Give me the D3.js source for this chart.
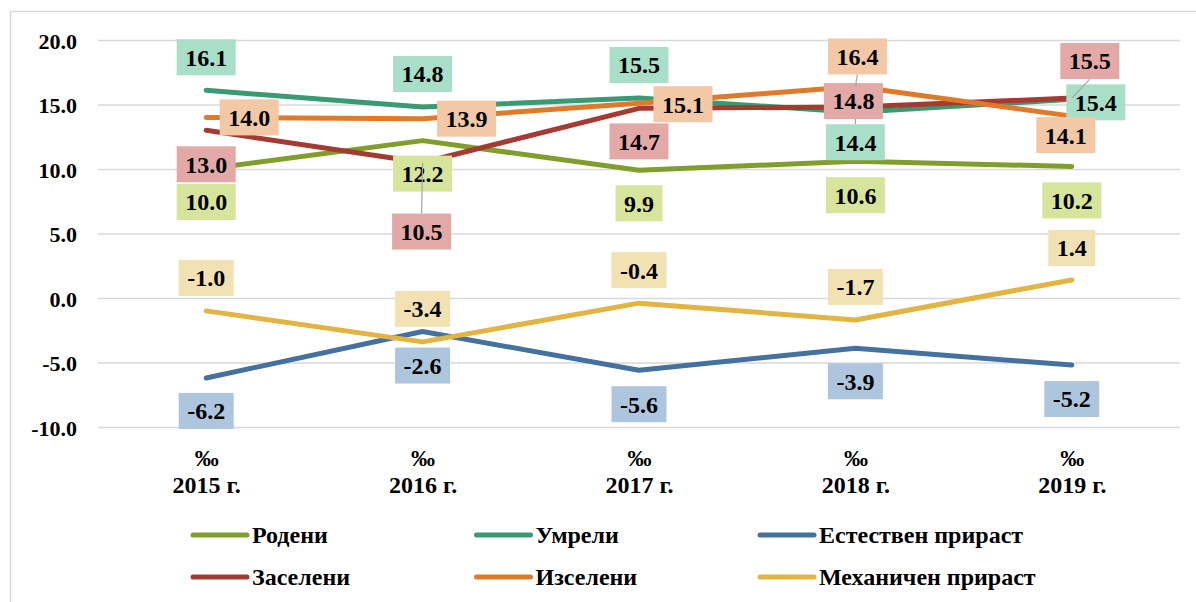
<!DOCTYPE html>
<html>
<head>
<meta charset="utf-8">
<script src="https://cdn.jsdelivr.net/npm/d3@7"></script>
<style>
    body { margin: 0; background: #fff; }
    svg text { font-family: "Liberation Serif", "Times New Roman", serif; font-weight: bold; fill: #000; }
</style>
</head>
<body>
<div id="chart"></div>
<script>
// data
const years = ['2015', '2016', '2017', '2018', '2019'];
const seriesNames = ['Родени', 'Умрели', 'Естествен прираст', 'Заселени', 'Изселени', 'Механичен прираст'];
const rodeni = [10.0, 12.2, 9.9, 10.6, 10.2];
const umreli = [16.1, 14.8, 15.5, 14.4, 15.4];
const estestven = [-6.2, -2.6, -5.6, -3.9, -5.2];
const zaseleni = [13.0, 10.5, 14.7, 14.8, 15.5];
const izseleni = [14.0, 13.9, 15.1, 16.4, 14.1];
const mehanichen = [-1.0, -3.4, -0.4, -1.7, 1.4];
const yTicks = [-10, -5, 0, 5, 10, 15, 20];

const lineColors = ['#7F9E2B', '#3A9A74', '#45719E', '#A43B33', '#DE7A2A', '#E2B441'];
const boxColors = ['#D7E59C', '#A9DEC8', '#AEC5DE', '#E3A9A6', '#F2C8A6', '#F2E1B3'];

// label offsets in px from the point (dx, dy), like manually dragged labels
const labelOffsets = [
    [[0, 33], [0, 33], [0, 33], [0, 34], [0, 34]],
    [[0, -33], [0, -33], [0, -33], [0, 30], [24, 3]],
    [[0, 33], [0, 34], [0, 34], [0, 33], [0, 34]],
    [[0, 34], [-1, 69], [0, 33], [-2, -6], [18, -37]],
    [[43, 0], [44, 0], [44, 1], [2, -30], [-6, 19]],
    [[0, -33], [0, -33], [0, -33], [0, -33], [0, -32]]
];
// labels that get a leader line back to their point
const leaders = [[1, 3], [3, 1], [3, 4], [4, 3]];

const allValues = [rodeni, umreli, estestven, zaseleni, izseleni, mehanichen];
const series = seriesNames.map((name, i) => ({ name, index: i, values: allValues[i] }));

const width = 1196, height = 602;
const plot = { left: 98, right: 1180, top: 40, bottom: 427 };
const serif = '"Liberation Serif", "Times New Roman", serif';

const svg = d3.select('#chart').append('svg')
    .attr('width', width)
    .attr('height', height);

svg.append('rect')
    .attr('x', 10.5).attr('y', 11.5)
    .attr('width', 1200).attr('height', 600)
    .attr('fill', 'none')
    .attr('stroke', '#D9D9D9')
    .attr('stroke-width', 1.5);

const x = d3.scalePoint()
    .domain(years)
    .range([plot.left, plot.right])
    .padding(0.5);

const y = d3.scaleLinear()
    .domain([-10, 20])
    .range([plot.bottom, plot.top]);

// y axis + gridlines
const yAxis = svg.append('g')
    .attr('transform', `translate(${plot.left},0)`)
    .call(d3.axisLeft(y)
        .tickValues(yTicks)
        .tickFormat(d => d.toFixed(1))
        .tickSize(-(plot.right - plot.left))
        .tickPadding(21));
yAxis.attr('font-family', serif);
yAxis.select('.domain').remove();
yAxis.selectAll('line').attr('stroke', '#D9D9D9').attr('stroke-width', 1.5);
yAxis.selectAll('text')
    .attr('font-size', 22)
    .attr('dy', '0.38em');

// x axis labels (two lines)
const xAxis = svg.append('g')
    .attr('transform', `translate(0,${plot.bottom})`)
    .call(d3.axisBottom(x).tickSize(0).tickFormat(''));
xAxis.attr('font-family', serif);
xAxis.select('.domain').remove();
xAxis.selectAll('.tick text').remove();
const xText = xAxis.selectAll('.tick').append('text')
    .attr('text-anchor', 'middle')
    .attr('font-size', 24);
xText.append('tspan').attr('x', 0).attr('y', 39).text('‰');
xText.append('tspan').attr('x', 0).attr('y', 66).text(d => d + ' г.');

// lines
const line = d3.line()
    .x((d, i) => x(years[i]))
    .y(d => y(d));

svg.append('g').selectAll('path')
    .data(series)
    .join('path')
    .attr('d', d => line(d.values))
    .attr('fill', 'none')
    .attr('stroke', d => lineColors[d.index])
    .attr('stroke-width', 5)
    .attr('stroke-linecap', 'round')
    .attr('stroke-linejoin', 'round');

// data labels
const labelLayer = svg.append('g');
series.forEach(s => {
    s.values.forEach((v, i) => {
        const px = x(years[i]);
        const py = y(v);
        const [dx, dy] = labelOffsets[s.index][i];
        const cx = px + dx, cy = py + dy;
        const g = labelLayer.append('g');
        const rect = g.append('rect').attr('fill', boxColors[s.index]);
        const t = g.append('text')
            .attr('x', cx).attr('y', cy)
            .attr('dy', '0.35em')
            .attr('text-anchor', 'middle')
            .attr('font-size', 24)
            .text(v.toFixed(1));
        const w = t.node().getComputedTextLength() + 17;
        const h = 36;
        rect.attr('x', cx - w / 2).attr('y', cy - h / 2).attr('width', w).attr('height', h);

        const isLeader = leaders.some(l => l[0] === s.index && l[1] === i);
        if (isLeader) {
            const edgeY = dy > 0 ? cy - h / 2 : cy + h / 2;
            g.insert('line', 'rect')
                .attr('x1', cx).attr('y1', edgeY)
                .attr('x2', px).attr('y2', py)
                .attr('stroke', '#A6A6A6')
                .attr('stroke-width', 1.2);
        }
    });
});

// legend
const legend = svg.append('g').selectAll('g')
    .data(series)
    .join('g')
    .attr('transform', d => `translate(${193 + (d.index % 3) * 283.5},${535 + Math.floor(d.index / 3) * 42})`);

legend.append('line')
    .attr('x1', 0).attr('x2', 54)
    .attr('stroke', d => lineColors[d.index])
    .attr('stroke-width', 5)
    .attr('stroke-linecap', 'round');

legend.append('text')
    .attr('x', 59)
    .attr('dy', '0.35em')
    .attr('font-size', 24)
    .text(d => d.name);
</script>
</body>
</html>
